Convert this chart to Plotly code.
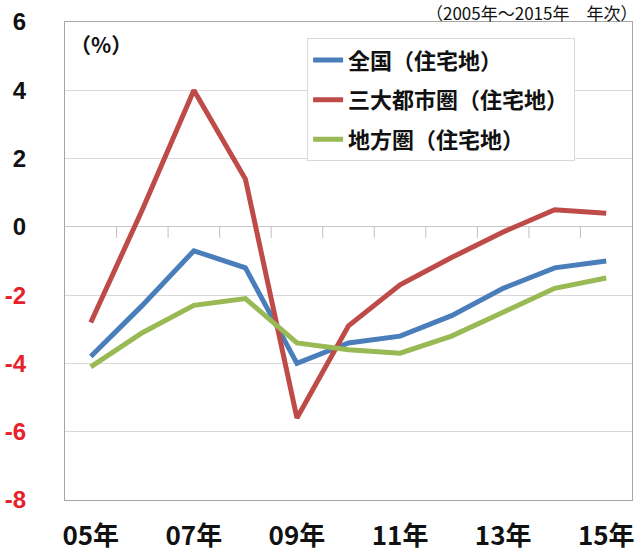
import plotly.graph_objects as go

years = ["05年", "06年", "07年", "08年", "09年", "10年", "11年", "12年", "13年", "14年", "15年"]
national = [-3.8, -2.3, -0.7, -1.2, -4.0, -3.4, -3.2, -2.6, -1.8, -1.2, -1.0]
three_metro = [-2.8, 0.5, 4.0, 1.4, -5.6, -2.9, -1.7, -0.9, -0.15, 0.5, 0.4]
regional = [-4.1, -3.1, -2.3, -2.1, -3.4, -3.6, -3.7, -3.2, -2.5, -1.8, -1.5]
series_names = ["全国（住宅地）", "三大都市圏（住宅地）", "地方圏（住宅地）"]
colors = ["#4A7EBB", "#BE4B48", "#98B954"]

y_ticks = [6, 4, 2, 0, -2, -4, -6, -8]
x_label_idx = [0, 2, 4, 6, 8, 10]

xs = list(range(len(years)))
fig = go.Figure()
for name, vals, c in zip(series_names, [national, three_metro, regional], colors):
    fig.add_trace(go.Scatter(x=xs, y=vals, mode="lines", name=name,
                             legendgroup=name,
                             line=dict(color=c, width=5)))

# category-boundary tick marks hanging below the zero line
for i in range(len(years) - 1):
    fig.add_shape(type="line", xref="x", yref="y", x0=i + 0.5, x1=i + 0.5,
                  ysizemode="pixel", yanchor=0, y0=0, y1=-11,
                  line=dict(color="#BFBFBF", width=1), layer="below")

ytext = []
for v in y_ticks:
    col = "#E8202A" if v < 0 else "#111111"
    ytext.append(f'<span style="color:{col}">{v}</span>')

cjk = "Noto Sans CJK JP"
fig.update_layout(
    width=640, height=555,
    margin=dict(l=65, r=8, t=22, b=55),
    paper_bgcolor="white", plot_bgcolor="white",
    showlegend=True,
    legend=dict(x=0.427, y=0.966, xanchor="left", yanchor="top",
                bgcolor="white", bordercolor="#D9D9D9", borderwidth=1,
                font=dict(family=cjk, size=22, color="#111111", weight="bold"),
                tracegroupgap=8, itemwidth=30),
    xaxis=dict(range=[-0.5, 10.5], tickvals=x_label_idx,
               ticktext=[years[i] for i in x_label_idx],
               showgrid=False, zeroline=False, showline=True, linecolor="#A6A6A6",
               mirror=True, ticks="", ticklabelstandoff=13, automargin=False,
               tickfont=dict(family=cjk, size=26, color="#111111", weight="bold")),
    yaxis=dict(range=[-8, 6], tickvals=y_ticks, ticktext=ytext,
               showgrid=True, gridcolor="#D9D9D9", gridwidth=1,
               zeroline=True, zerolinecolor="#C8C8C8", zerolinewidth=1,
               showline=True, linecolor="#A6A6A6", mirror=True,
               ticks="", ticklabelstandoff=33, automargin=False,
               tickfont=dict(family="Liberation Sans, Arial", size=24, color="#111111", weight="bold")),
    annotations=[
        dict(text="（%）", x=0.005, y=0.955, xref="paper", yref="paper",
             xanchor="left", yanchor="middle", showarrow=False,
             font=dict(family=cjk, size=21, color="#111111", weight="bold")),
        dict(text="（2005年～2015年　年次）", x=1.0, y=1.0, xref="paper", yref="paper",
             xanchor="right", yanchor="bottom", yshift=-5, xshift=7, showarrow=False,
             font=dict(family=cjk, size=17, color="#111111")),
    ],
)

fig.write_html("out.html")
